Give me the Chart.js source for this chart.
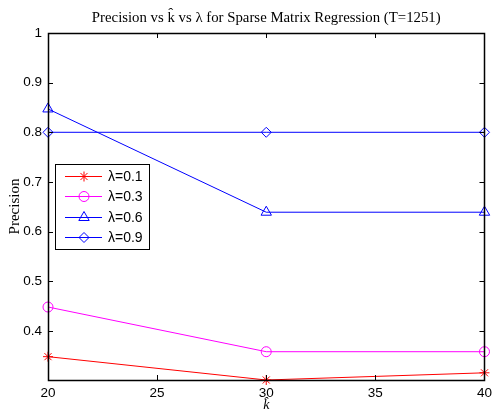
<!DOCTYPE html>
<html>
<head>
<script src="https://cdn.jsdelivr.net/npm/chart.js@4.4.0/dist/chart.umd.min.js"></script>
<style>
  body { margin: 0; background: #fff; }
  #wrap { width: 497px; height: 415px; }
</style>
</head>
<body>
<div id="wrap"><canvas id="c"></canvas></div>
<script>
// k-hat values on the x axis
const kValues = [20, 30, 40];
const lam01 = [0.348, 0.301, 0.3155];
const lam03 = [0.448, 0.358, 0.358];
const lam06 = [0.847, 0.639, 0.639];
const lam09 = [0.8, 0.8, 0.8];
const seriesNames = ['\u03bb=0.1', '\u03bb=0.3', '\u03bb=0.6', '\u03bb=0.9'];
const xTicks = [20, 25, 30, 35, 40];
const yTicks = [0.4, 0.5, 0.6, 0.7, 0.8, 0.9, 1];
const chartTitle = 'Precision vs k\u0302 vs \u03bb for Sparse Matrix Regression (T=1251)';

function pts(vals) {
  return kValues.map((k, i) => ({x: k, y: vals[i]}));
}

const styles = [
  {color: '#ff0000', marker: 'star', r: 5},
  {color: '#ff00ff', marker: 'circle', r: 5},
  {color: '#0000ff', marker: 'triangle', r: 6},
  {color: '#0000ff', marker: 'rectRot', r: 5}
];
const allVals = [lam01, lam03, lam06, lam09];

const datasets = allVals.map((v, i) => ({
  label: seriesNames[i],
  data: pts(v),
  borderColor: styles[i].color,
  backgroundColor: 'rgba(0,0,0,0)',
  pointBorderColor: styles[i].color,
  pointBackgroundColor: 'rgba(0,0,0,0)',
  pointStyle: styles[i].marker,
  pointRadius: styles[i].r,
  pointBorderWidth: 1,
  borderWidth: 1,
  tension: 0,
  clip: false
}));

// frame, inside ticks, title and the legend box, drawn the matlab way
const matlabFrame = {
  id: 'matlabFrame',
  afterDatasetsDraw(chart) {
    const ctx = chart.ctx, a = chart.chartArea;
    const xs = chart.scales.x, ys = chart.scales.y;
    ctx.save();
    ctx.strokeStyle = '#000';
    ctx.lineWidth = 1;
    ctx.beginPath();
    xTicks.forEach(t => {
      const px = Math.round(xs.getPixelForValue(t)) + 0.5;
      ctx.moveTo(px, a.bottom); ctx.lineTo(px, a.bottom - 5);
      ctx.moveTo(px, a.top); ctx.lineTo(px, a.top + 5);
    });
    yTicks.forEach(t => {
      const py = Math.round(ys.getPixelForValue(t)) + 0.5;
      ctx.moveTo(a.left, py); ctx.lineTo(a.left + 5, py);
      ctx.moveTo(a.right, py); ctx.lineTo(a.right - 5, py);
    });
    ctx.stroke();
    ctx.lineWidth = 1.5;
    ctx.strokeRect(Math.round(a.left) + 0.5, Math.round(a.top) + 0.5,
      Math.round(a.right - a.left), Math.round(a.bottom - a.top));

    // title centred over the axes
    ctx.fillStyle = '#000';
    ctx.font = '14.8px "Liberation Serif", "Times New Roman", serif';
    ctx.textAlign = 'center';
    ctx.textBaseline = 'middle';
    ctx.fillText(chartTitle, (a.left + a.right) / 2, 18);

    // legend
    const lx = 55, ly = 164, lw = 94, lh = 85;
    ctx.fillStyle = '#fff';
    ctx.fillRect(lx, ly, lw, lh);
    ctx.lineWidth = 1;
    ctx.strokeStyle = '#000';
    ctx.strokeRect(lx + 0.5, ly + 0.5, lw, lh);
    ctx.font = '14px "Liberation Sans", Arial, sans-serif';
    ctx.textAlign = 'left';
    seriesNames.forEach((name, i) => {
      const y = Math.round(ly + 12 + i * 20.3) + 0.5;
      ctx.strokeStyle = styles[i].color;
      ctx.lineWidth = 1;
      ctx.beginPath();
      ctx.moveTo(lx + 10, y); ctx.lineTo(lx + 47, y);
      ctx.stroke();
      ctx.fillStyle = 'rgba(0,0,0,0)';
      Chart.helpers.drawPoint(ctx, {pointStyle: styles[i].marker, radius: styles[i].r, borderWidth: 1}, lx + 29, y);
      ctx.fillStyle = '#000';
      ctx.fillText(name, lx + 53, y + 1);
    });
    ctx.restore();
  }
};

new Chart(document.getElementById('c'), {
  type: 'line',
  data: {datasets: datasets},
  plugins: [matlabFrame],
  options: {
    responsive: true,
    maintainAspectRatio: false,
    animation: false,
    layout: {padding: {left: 6, right: 9, top: 33, bottom: 0}},
    plugins: {
      legend: {display: false},
      tooltip: {enabled: false},
      title: {display: false}
    },
    scales: {
      x: {
        type: 'linear',
        min: 20, max: 40,
        afterBuildTicks: s => { s.ticks = xTicks.map(v => ({value: v})); },
        afterFit: s => { s.height = 35; },
        grid: {display: false, drawTicks: false},
        border: {display: false},
        ticks: {color: '#000', padding: 5, font: {family: '"Liberation Sans", Arial, sans-serif', size: 13.5}},
        title: {
          display: true, text: 'k\u0302', color: '#000', padding: {top: 0, bottom: 1},
          font: {family: '"Liberation Serif", serif', size: 14, style: 'italic'}
        }
      },
      y: {
        min: 0.301, max: 1,
        afterBuildTicks: s => { s.ticks = yTicks.map(v => ({value: v})); },
        afterFit: s => { s.width = 42; },
        grid: {display: false, drawTicks: false},
        border: {display: false},
        ticks: {
          color: '#000', padding: 6,
          font: {family: '"Liberation Sans", Arial, sans-serif', size: 13.5},
          callback: v => (v === 1 ? '1' : v.toFixed(1))
        },
        title: {
          display: true, text: 'Precision', color: '#000', padding: 0,
          font: {family: '"Liberation Serif", serif', size: 15}
        }
      }
    }
  }
});
</script>
</body>
</html>
